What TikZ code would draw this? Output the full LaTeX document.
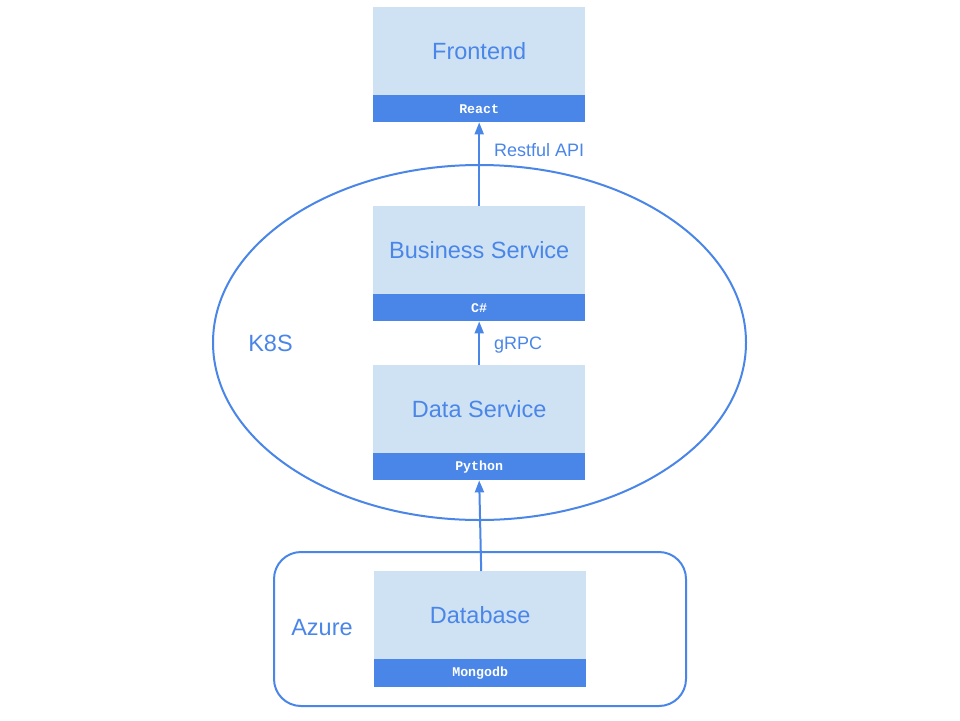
\documentclass[tikz,border=0pt]{standalone}
\usepackage{fontspec}
\setmainfont{Liberation Sans}
\newfontfamily\bandfont{Liberation Mono}
\usetikzlibrary{arrows.meta,shapes.geometric}
\definecolor{gblue}{HTML}{4A86E8}
\definecolor{glight}{HTML}{CFE2F3}
\tikzset{
  mainbox/.style={fill=glight, text=gblue, inner sep=0pt, minimum width=212pt, minimum height=88pt, anchor=north west, font=\fontsize{23.5}{26}\selectfont},
  bandbox/.style={fill=gblue, text=white, inner sep=0pt, minimum width=212pt, minimum height=27pt, anchor=north west, font=\bandfont\bfseries\fontsize{13.3}{15}\selectfont},
  conn/.style={draw=gblue, line width=2pt, -{Triangle[length=12pt,width=9pt]}},
  lbl/.style={text=gblue, inner sep=0pt, anchor=west, font=\fontsize{18}{20}\selectfont},
  grouplbl/.style={text=gblue, inner sep=0pt, anchor=center, font=\fontsize{23.5}{26}\selectfont},
  groupline/.style={draw=gblue, line width=2pt}
}
\begin{document}
\begin{tikzpicture}[x=1pt,y=-1pt]
\path[fill=white] (0,0) rectangle (960,720);
\useasboundingbox (0,0) rectangle (960,720);
% groups
\node[groupline, ellipse, inner sep=0pt, minimum width=533pt, minimum height=355pt] (k8s) at (479.5,342.5) {};
\node[grouplbl] (k8slbl) at (270.5,343) {K8S};
\draw[groupline, rounded corners=27pt] (274,552) rectangle (686,706);
\node[grouplbl] (azurelbl) at (322,628) {Azure};
% boxes
\node[mainbox] (front) at (373,7) {Frontend};
\node[bandbox] (frontb) at (373,95) {React};
\node[mainbox] (bus) at (373,206) {Business Service};
\node[bandbox] (busb) at (373,294) {C\#};
\node[mainbox] (data) at (373,365) {Data Service};
\node[bandbox] (datab) at (373,453) {Python};
\node[mainbox] (db) at (374,571) {Database};
\node[bandbox, minimum height=28pt] (dbb) at (374,659) {Mongodb};
% connectors
\draw[conn] (bus.north) -- (frontb.south);
\draw[conn] (data.north) -- (busb.south);
\draw[conn] ([xshift=1pt]db.north) -- (datab.south);
% labels
\node[lbl] (rest) at (494,150) {Restful API};
\node[lbl] (grpc) at (494,345) {gRPC};
\end{tikzpicture}
\end{document}
